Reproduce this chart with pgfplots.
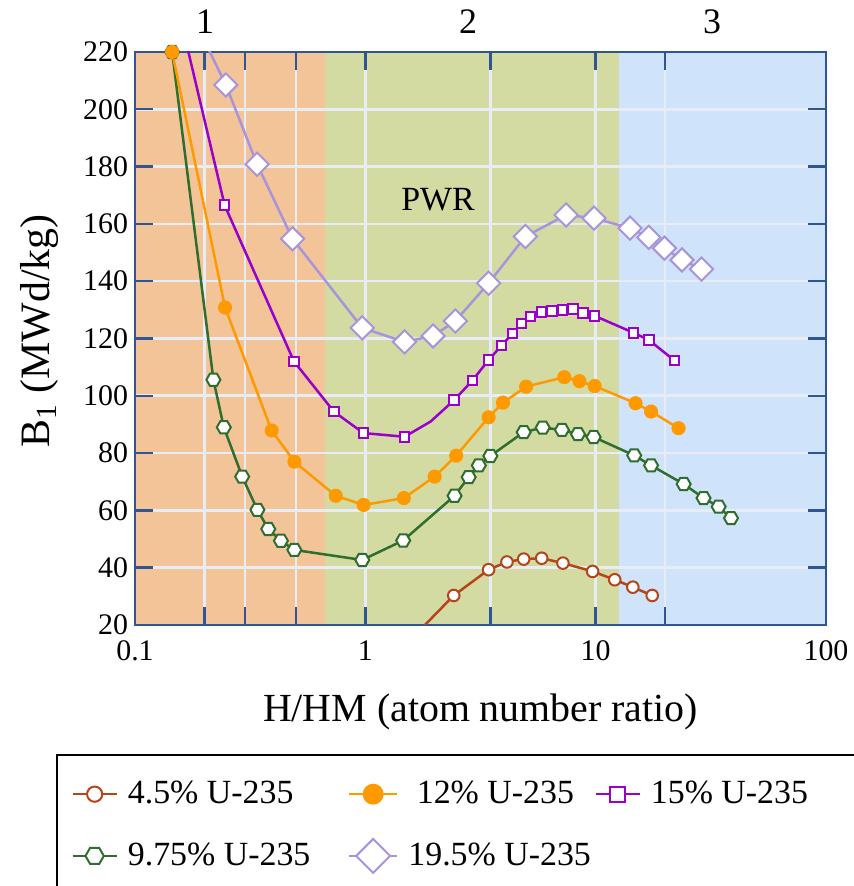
\documentclass[border=0pt]{standalone}
\usepackage{fontspec}
\setmainfont{Liberation Serif}
\usepackage{pgfplots}
\pgfplotsset{compat=1.18}

\definecolor{bgor}{HTML}{F4C499}
\definecolor{bggr}{HTML}{D3DBA3}
\definecolor{bgbl}{HTML}{CFE3FB}
\definecolor{gridc}{HTML}{E8EDF5}
\definecolor{axisc}{HTML}{2F5597}
\definecolor{cbrown}{HTML}{B5451B}
\definecolor{corange}{HTML}{FF9900}
\definecolor{cpurple}{HTML}{9900CC}
\definecolor{cgreen}{HTML}{2F6E2F}
\definecolor{clav}{HTML}{A894DA}

\pgfdeclareplotmark{hexagon}{%
  \pgfpathmoveto{\pgfqpoint{\pgfplotmarksize}{0pt}}%
  \pgfpathlineto{\pgfqpoint{.5\pgfplotmarksize}{.866\pgfplotmarksize}}%
  \pgfpathlineto{\pgfqpoint{-.5\pgfplotmarksize}{.866\pgfplotmarksize}}%
  \pgfpathlineto{\pgfqpoint{-\pgfplotmarksize}{0pt}}%
  \pgfpathlineto{\pgfqpoint{-.5\pgfplotmarksize}{-.866\pgfplotmarksize}}%
  \pgfpathlineto{\pgfqpoint{.5\pgfplotmarksize}{-.866\pgfplotmarksize}}%
  \pgfpathclose\pgfusepathqfillstroke}

\pgfplotsset{
  sbrown/.style={cbrown, line width=1.25bp, mark=*, mark size=2.9bp, mark options={fill=white, draw=cbrown, line width=1bp}},
  sorange/.style={corange, line width=1.25bp, mark=*, mark size=2.9bp, mark options={fill=corange, draw=corange}},
  spurple/.style={cpurple, line width=1.25bp, mark=square*, mark size=2.4bp, mark options={fill=white, draw=cpurple, line width=1bp}},
  sgreen/.style={cgreen, line width=1.25bp, mark=hexagon, mark size=3.5bp, mark options={fill=white, draw=cgreen, line width=1bp}},
  slav/.style={clav, line width=1.25bp, mark=square*, mark size=4.1bp, mark options={fill=white, draw=clav, line width=1bp, rotate=45}},
  shortleg/.style={legend image code/.code={\draw[mark repeat=2,mark phase=2,##1] plot coordinates {(0bp,0bp) (11bp,0bp) (22bp,0bp)};}},
  longleg/.style={legend image code/.code={\draw[mark repeat=2,mark phase=2,##1] plot coordinates {(0bp,0bp) (12bp,0bp) (24bp,0bp)};}},
}

\begin{document}
\begin{tikzpicture}
\begin{axis}[
    at={(67.5bp,130.5bp)}, anchor=south west,
    scale only axis, width=345.5bp, height=286.5bp,
    set layers,
    xmode=log,
    xmin=0.1, xmax=100, ymin=20, ymax=220,
    xtick={0.1,1,10,100}, xticklabels={0.1,1,10,100},
    minor xtick={0.2,0.3,0.5,3.5,20},
    ytick={20,40,...,220},
    grid=both,
    grid style={draw=gridc, line width=1.3bp},
    axis line style={draw=axisc, line width=1.35bp},
    tick style={draw=axisc, line width=1.2bp},
    major tick length=9bp, minor tick length=9bp,
    tick label style={font=\fontsize{15}{18}\selectfont},
    xticklabel style={yshift=-4.5bp},
    /pgf/number format/assume math mode=true,
    xlabel={H/HM (atom number ratio)},
    ylabel={B\textsubscript{1} (MWd/kg)},
    xlabel style={at={(axis description cs:0.5,-0.152)}, anchor=center, font=\fontsize{20}{24}\selectfont},
    ylabel style={at={(axis description cs:-0.1375,0.513)}, anchor=center, font=\fontsize{21}{25}\selectfont},
    legend columns=3,
    legend cell align=left,
    shortleg,
    legend style={at={(axis description cs:-0.0926,-0.2653)}, anchor=north west,
        draw=none, fill=none, inner sep=0pt, row sep=14bp,
        font=\fontsize{17}{20}\selectfont,
        nodes={inner sep=2bp},
        /tikz/every odd column/.append style={column sep=3bp}},
]
% background zones
\addplot[on layer=axis background, fill=bgor, draw=none, forget plot] coordinates {(0.1,20) (0.668,20) (0.668,220) (0.1,220)} -- cycle;
\addplot[on layer=axis background, fill=bggr, draw=none, forget plot] coordinates {(0.668,20) (12.6,20) (12.6,220) (0.668,220)} -- cycle;
\addplot[on layer=axis background, fill=bgbl, draw=none, forget plot] coordinates {(12.6,20) (100,20) (100,220) (12.6,220)} -- cycle;

% 9.75% U-235
\addplot[sgreen, forget plot] coordinates {
(0.145,220) (0.219,105.6) (0.243,89) (0.292,71.8) (0.34,60.2) (0.379,53.5) (0.43,49.4) (0.492,46.2)
(0.97,42.7) (1.46,49.5) (2.44,65.1) (2.81,71.6) (3.11,75.7) (3.49,79) (4.87,87.3)
(5.89,88.9) (7.14,88.1) (8.38,86.6) (9.8,85.6) (14.7,79.2) (17.4,75.7) (24.1,69.2) (29.4,64.3)
(34.2,61.3) (38.7,57.3)};

% 4.5% U-235 (first point lies below the axis)
\addplot[sbrown, forget plot, mark indices={1,2,3,4,5,6,7,8,9,10}] coordinates {
(1.6,15.5) (2.42,30.3) (3.43,39.3) (4.12,42) (4.87,43) (5.83,43.3) (7.21,41.6) (9.7,38.7)
(12.1,35.8) (14.5,33.2) (17.6,30.3)};

% 12% U-235
\addplot[sorange, forget plot] coordinates {
(0.145,220) (0.246,130.8) (0.392,87.9) (0.492,77) (0.744,65.1) (0.983,61.9) (1.47,64.3) (2.0,71.8)
(2.48,79.1) (3.43,92.5) (3.96,97.6) (4.99,103.2) (7.31,106.5) (8.5,105.1) (9.9,103.4) (14.9,97.4)
(17.4,94.5) (22.9,88.7)};

% 15% U-235
\addplot[spurple, forget plot, mark indices={1,2,3,4,5,7,8,9,10,11,12,13,14,15,16,17,18,19,20,21,22}] coordinates {
(0.145,244) (0.245,166.5) (0.49,112) (0.73,94.5) (0.98,87) (1.48,85.7) (1.92,91) (2.43,98.5)
(2.92,105.4) (3.43,112.5) (3.9,117.5) (4.36,121.8) (4.76,125.3) (5.22,127.7) (5.81,129.2) (6.48,129.7)
(7.17,130) (7.95,130.2) (8.81,129) (9.9,127.9) (14.6,122) (17,119.5) (22,112.3)};

% 19.5% U-235
\addplot[slav, forget plot, mark indices={1,2,3,4,5,6,7,8,9,10,11,12,13,14,15,16}] coordinates {
(0.2,224) (0.248,208.5) (0.339,180.8) (0.483,154.8) (0.97,123.7) (1.48,118.8) (1.97,120.9) (2.46,126.1)
(3.43,139.3) (4.95,155.6) (7.44,163.1) (9.84,162) (14.1,158.5) (17.0,155.3) (19.9,151.5) (23.7,147.4)
(28.8,144.2)};

\node[font=\fontsize{17}{20}\selectfont] at (axis cs:2.07,168.4) {PWR};

\addlegendimage{sbrown, mark size=3.8bp}
\addlegendentry{\makebox[108bp][l]{4.5\% U-235}}
\addlegendimage{sorange, longleg, mark size=4.6bp}
\addlegendentry{\makebox[91bp][l]{\ 12\% U-235}}
\addlegendimage{spurple, mark size=3.8bp}
\addlegendentry{15\% U-235}
\addlegendimage{sgreen, mark size=4.6bp}
\addlegendentry{\makebox[108bp][l]{9.75\% U-235}}
\addlegendimage{slav, longleg, mark size=6bp}
\addlegendentry{\makebox[91bp][l]{19.5\% U-235}}
\end{axis}

\node[font=\fontsize{18}{22}\selectfont] at (102.5bp,432bp) {1};
\node[font=\fontsize{18}{22}\selectfont] at (234bp,432bp) {2};
\node[font=\fontsize{18}{22}\selectfont] at (356bp,432bp) {3};

\draw[line width=1.25bp] (28.5bp,65.5bp) rectangle (440bp,-10bp);

\pgfresetboundingbox
\useasboundingbox (0,0) rectangle (427bp,443bp);
\end{tikzpicture}
\end{document}
